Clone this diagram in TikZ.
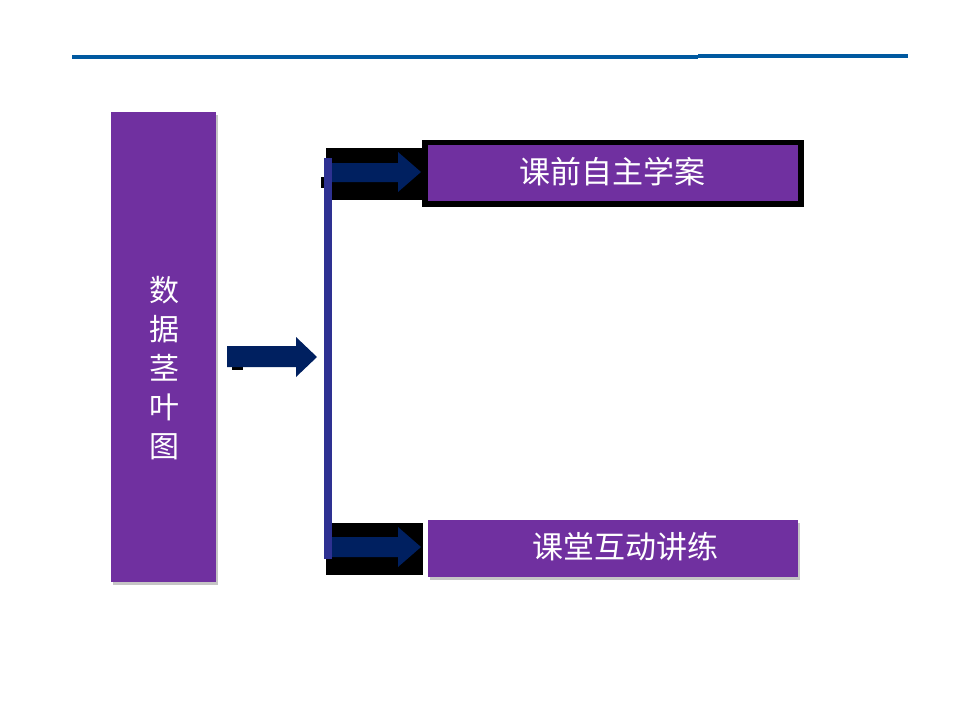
\documentclass[tikz,border=0pt]{standalone}
\usepackage{fontspec}
\newfontfamily\cjk{Noto Sans CJK SC}
\usetikzlibrary{shadows}
\definecolor{purp}{HTML}{7030A0}
\definecolor{navyc}{HTML}{002060}
\definecolor{barc}{HTML}{2E3192}
\definecolor{topblue}{HTML}{0059A0}
\tikzset{
  purpbox/.style={fill=purp, draw=none, inner sep=0pt, text=white,
    drop shadow={opacity=0.45, shadow xshift=2pt, shadow yshift=-3pt}},
  frame/.style={fill=black, draw=none, inner sep=0pt},
  blockarrow/.style={fill=navyc, draw=none},
  boxtext/.style={text=white, inner sep=0pt, font=\cjk\fontsize{31}{38}\selectfont},
}
\begin{document}
\begin{tikzpicture}[x=1pt,y=-1pt]
\useasboundingbox[fill=white] (0,0) rectangle (960,720);
% top rule
\fill[topblue] (72,55) rectangle (698,59);
\fill[topblue] (698,54) rectangle (908,57.5);
% left box
\node[purpbox, minimum width=105pt, minimum height=470pt] (stem) at (163.5,347) {};
\node[boxtext, font=\cjk\fontsize{30}{38.8}\selectfont, align=center] (stemtext) at (164.5,368)
  {数\\据\\茎\\叶\\图};
% right boxes
\node[frame, minimum width=382pt, minimum height=67pt] (topframe) at (613,173.5) {};
\node[fill=purp, inner sep=0pt, minimum width=370pt, minimum height=56pt] (top) at (613,173) {};
\node[boxtext] (toptext) at (612.5,172) {课前自主学案};
\node[purpbox, minimum width=370pt, minimum height=57pt] (bot) at (613,548.5) {};
\node[boxtext] (bottext) at (625,547) {课堂互动讲练};
% black backings
\fill[black] (326,148) rectangle (423,200);
\fill[black] (326,523) rectangle (423,575);
\fill[black] (321,177) rectangle (324,188);
% spine
\node[fill=barc, inner sep=0pt, minimum width=8pt, minimum height=401pt] (spine) at (328,358.5) {};
% middle arrow
\fill[black] (232,363) rectangle (243,370);
\fill[blockarrow] (227,346) -- (296,346) -- (296,337) -- (317,357) -- (296,377) -- (296,367) -- (227,367) -- cycle;
% top arrow
\fill[blockarrow] (spine.east |- 0,163) -- (398,163) -- (398,152) -- (421,172) -- (398,192) -- (398,182) -- (spine.east |- 0,182) -- cycle;
% bottom arrow
\fill[blockarrow] (spine.east |- 0,537) -- (398,537) -- (398,527) -- (421,547) -- (398,567) -- (398,557) -- (spine.east |- 0,557) -- cycle;
\end{tikzpicture}
\end{document}
